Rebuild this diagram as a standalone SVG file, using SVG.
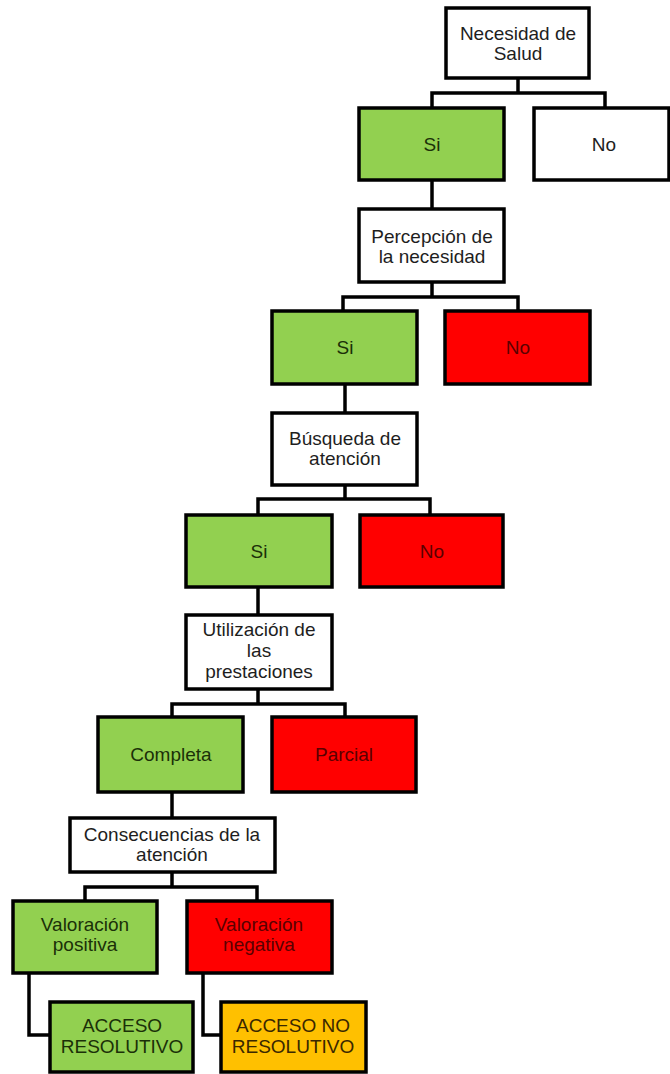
<svg xmlns="http://www.w3.org/2000/svg" width="670" height="1074" viewBox="0 0 670 1074">
<style>
.box{stroke:#000;stroke-width:3.5}
.w{fill:#fff}
.g{fill:#92d050}
.r{fill:#ff0000}
.o{fill:#ffc000}
text{font-family:"Liberation Sans",Arial,sans-serif;font-size:19px;text-anchor:middle}
.tw{fill:#1e1e1e}
.tg{fill:#1b3008}
.tr{fill:#5a0000}
.to{fill:#3a2800}
.conn{fill:none;stroke:#000;stroke-width:3.5}
</style>
<rect width="670" height="1074" fill="#fff"/>
<g id="connectors" class="conn">
<path d="M518,78 V93 M432,108 V93 H605 V108"/>
<path d="M432,180 V209"/>
<path d="M432,282 V297 M343,311 V297 H518 V311"/>
<path d="M345,384 V413"/>
<path d="M345,485 V499 M258,515 V499 H430 V515"/>
<path d="M258,587 V615"/>
<path d="M258,689 V704 M172,717 V704 H345 V717"/>
<path d="M172,792 V818"/>
<path d="M172,872 V887 M85,901 V887 H257 V901"/>
<path d="M29,973 V1035 H50"/>
<path d="M203,973 V1035 H221"/>
</g>
<g id="n_necesidad"><rect class="box w" x="446" y="8" width="143" height="70"/><text class="tw" x="518" y="40">Necesidad de</text><text class="tw" x="518" y="60">Salud</text></g>
<g id="n_si1"><rect class="box g" x="359" y="108" width="145" height="72"/><text class="tg" x="432" y="151">Si</text></g>
<g id="n_no1"><rect class="box w" x="534" y="108" width="135" height="72"/><text class="tw" x="604" y="151">No</text></g>
<g id="n_percepcion"><rect class="box w" x="359" y="209" width="145" height="73"/><text class="tw" x="432" y="243">Percepción de</text><text class="tw" x="432" y="263">la necesidad</text></g>
<g id="n_si2"><rect class="box g" x="272" y="311" width="145" height="73"/><text class="tg" x="345" y="354">Si</text></g>
<g id="n_no2"><rect class="box r" x="445" y="311" width="145" height="73"/><text class="tr" x="518" y="354">No</text></g>
<g id="n_busqueda"><rect class="box w" x="272" y="413" width="145" height="72"/><text class="tw" x="345" y="445">Búsqueda de</text><text class="tw" x="345" y="465">atención</text></g>
<g id="n_si3"><rect class="box g" x="186" y="515" width="146" height="72"/><text class="tg" x="259" y="558">Si</text></g>
<g id="n_no3"><rect class="box r" x="360" y="515" width="143" height="72"/><text class="tr" x="432" y="558">No</text></g>
<g id="n_utilizacion"><rect class="box w" x="186" y="615" width="146" height="74"/><text class="tw" x="259" y="636">Utilización de</text><text class="tw" x="259" y="657">las</text><text class="tw" x="259" y="678">prestaciones</text></g>
<g id="n_completa"><rect class="box g" x="98" y="717" width="145" height="75"/><text class="tg" x="171" y="761">Completa</text></g>
<g id="n_parcial"><rect class="box r" x="272" y="717" width="144" height="75"/><text class="tr" x="344" y="761">Parcial</text></g>
<g id="n_consecuencias"><rect class="box w" x="70" y="818" width="205" height="54"/><text class="tw" x="172" y="841">Consecuencias de la</text><text class="tw" x="172" y="861">atención</text></g>
<g id="n_valpos"><rect class="box g" x="13" y="901" width="144" height="72"/><text class="tg" x="85" y="931">Valoración</text><text class="tg" x="85" y="951">positiva</text></g>
<g id="n_valneg"><rect class="box r" x="187" y="901" width="145" height="72"/><text class="tr" x="259" y="931">Valoración</text><text class="tr" x="259" y="951">negativa</text></g>
<g id="n_acceso"><rect class="box g" x="50" y="1002" width="143" height="70"/><text class="tg" x="122" y="1032">ACCESO</text><text class="tg" x="122" y="1053">RESOLUTIVO</text></g>
<g id="n_accesono"><rect class="box o" x="221" y="1002" width="145" height="70"/><text class="to" x="293" y="1032">ACCESO NO</text><text class="to" x="293" y="1053">RESOLUTIVO</text></g>
</svg>
